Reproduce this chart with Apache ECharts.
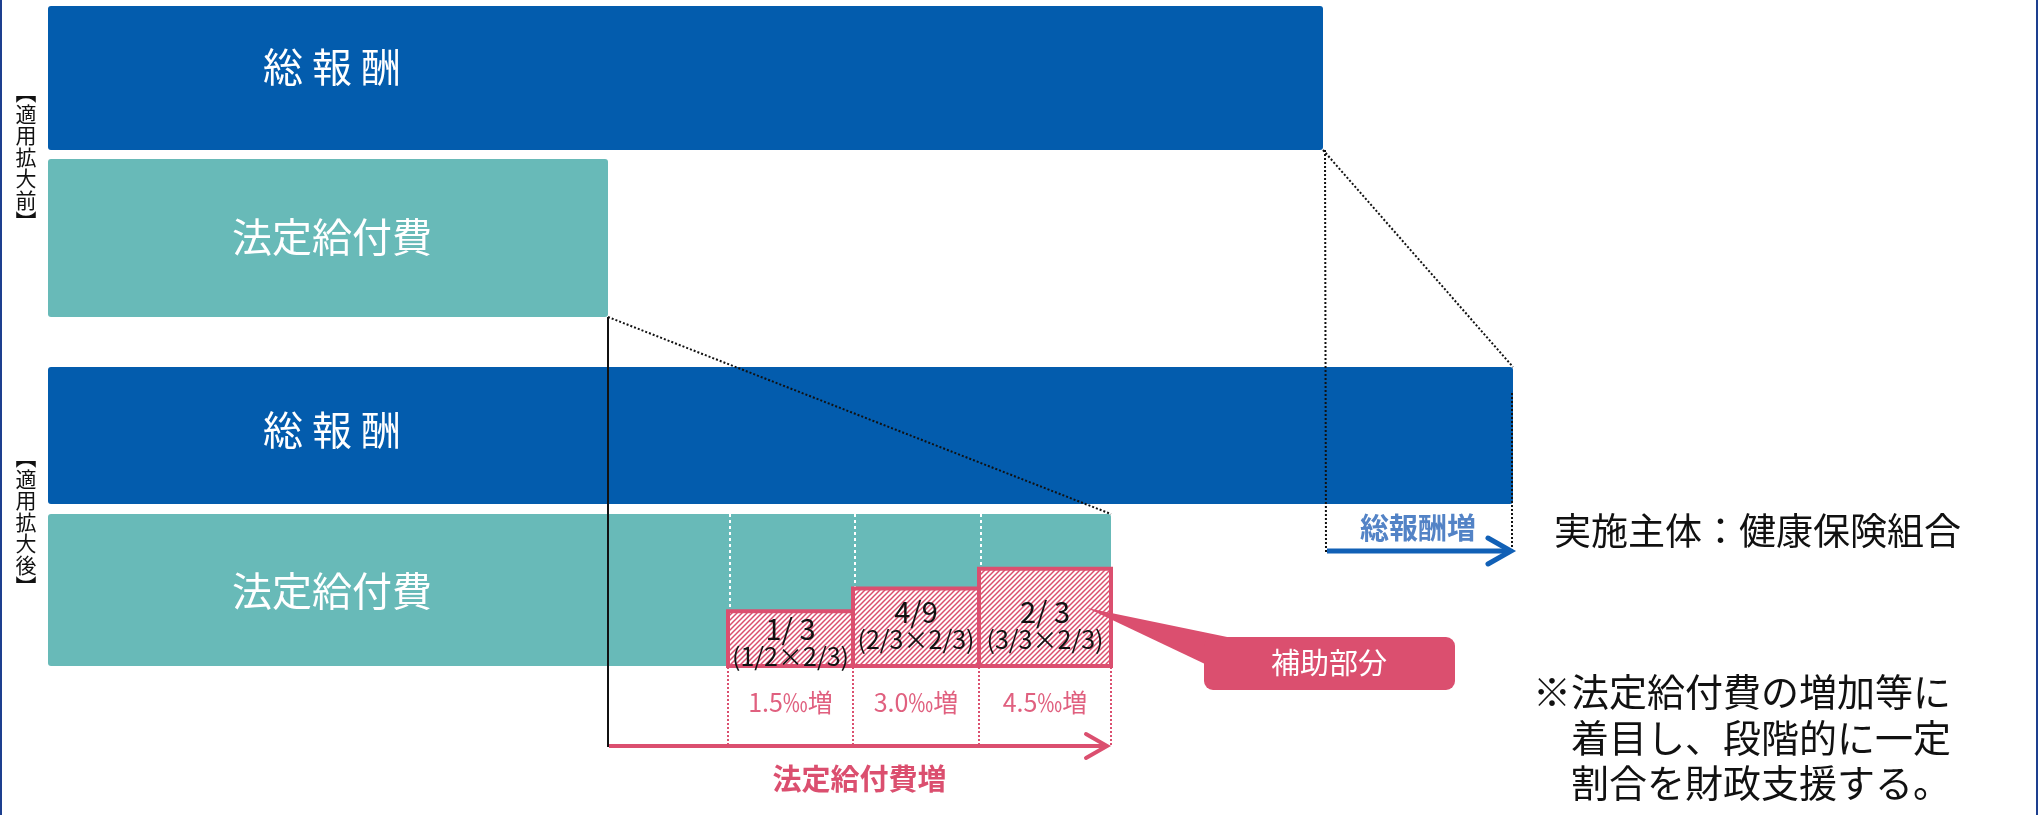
<!DOCTYPE html>
<html lang="ja">
<head>
<meta charset="utf-8">
<title>適用拡大前後の総報酬と法定給付費</title>
<script src="https://cdn.jsdelivr.net/npm/echarts@6/dist/echarts.min.js"></script>
<style>
html, body { margin: 0; padding: 0; background: #fff; }
#main { width: 2039px; height: 815px; }
</style>
</head>
<body>
<div id="main"></div>
<script>
// ---- データ ----
const panelLabels = ['︻適用拡大前︼', '︻適用拡大後︼'];
const barNames = ['総 報 酬', '法定給付費'];
const totalPay = [1275, 1465];          // 総報酬（前・後）
const benefitCost = [560, 1063];        // 法定給付費（前・後）
const stageEdges = [680, 805, 931, 1063];
const stageRatios = ['1/ 3', '4/9', '2/ 3'];
const stageFormulas = ['(1/2×2/3)', '(2/3×2/3)', '(3/3×2/3)'];
const stageRates = ['1.5‰増', '3.0‰増', '4.5‰増'];
const stageShare = [0.36, 0.51, 0.64];  // 補助部分の高さ（棒に対する割合）
const agentText = '実施主体：健康保険組合';
const noteLines = ['※法定給付費の増加等に', '　着目し、段階的に一定', '　割合を財政支援する。'];

// ---- 見た目 ----
const BLUE = '#035cad';
const TEAL = '#68bab8';
const PINK = '#db4f6f';
const FONT = '"Noto Sans CJK JP", "Noto Sans", sans-serif';
const X0 = 48;  // 棒の起点
const ROWS = [[6, 150], [159, 317], [367, 504], [514, 666]];

// 斜線の塗り
function makeHatch() {
    const c = document.createElement('canvas');
    c.width = 5; c.height = 5;
    const g = c.getContext('2d');
    g.fillStyle = '#fff';
    g.fillRect(0, 0, 5, 5);
    g.strokeStyle = PINK;
    g.lineWidth = 1.5;
    g.beginPath();
    g.moveTo(0, 5); g.lineTo(5, 0);
    g.moveTo(-1, 1); g.lineTo(1, -1);
    g.moveTo(4, 6); g.lineTo(6, 4);
    g.stroke();
    return c;
}
const hatch = makeHatch();

function renderItem(params, api) {
    const P = (x, y) => api.coord([x, y]);
    const kids = [];
    const rect = (x1, y1, x2, y2, style, r) => {
        const a = P(x1, y1), b = P(x2, y2);
        kids.push({ type: 'rect', shape: { x: a[0], y: a[1], width: b[0] - a[0], height: b[1] - a[1], r: r || 0 }, style: style });
    };
    const line = (x1, y1, x2, y2, style) => {
        const a = P(x1, y1), b = P(x2, y2);
        kids.push({ type: 'line', shape: { x1: a[0], y1: a[1], x2: b[0], y2: b[1] }, style: style });
    };
    const text = (s, x, y, size, fill, opt) => {
        const a = P(x, y);
        kids.push({
            type: 'text',
            style: Object.assign({ text: s, x: a[0], y: a[1], fill: fill, fontSize: size, fontFamily: FONT,
                align: 'center', verticalAlign: 'middle' }, opt || {})
        });
    };
    const poly = (type, pts, style) => {
        kids.push({ type: type, shape: { points: pts.map(p => P(p[0], p[1])) }, style: style });
    };
    const dotted = { stroke: '#111', lineWidth: 2, lineDash: [2, 2] };

    // 枠
    line(1, 0, 1, 815, { stroke: '#1d3f8f', lineWidth: 2 });
    line(2037, 0, 2037, 815, { stroke: '#1d3f8f', lineWidth: 2 });

    // 棒
    const lens = [totalPay[0], benefitCost[0], totalPay[1], benefitCost[1]];
    lens.forEach((v, i) => {
        rect(X0, ROWS[i][0], X0 + v, ROWS[i][1], { fill: i % 2 ? TEAL : BLUE }, 3);
    });
    text(barNames[0], 332, 67, 40, '#fff');
    text(barNames[1], 332, 237, 40, '#fff');
    text(barNames[0], 332, 430, 40, '#fff');
    text(barNames[1], 332, 591, 40, '#fff');

    // 左の見出し（縦書き）
    [157, 522].forEach((cy, i) => {
        text(panelLabels[i].split('').join('\n'), 26, cy, 21, '#111', { lineHeight: 21.5 });
    });

    // 段階ごとの補助部分
    const base = ROWS[3][1], barH = ROWS[3][1] - ROWS[3][0];
    for (let i = 0; i < 3; i++) {
        const x1 = X0 + stageEdges[i], x2 = X0 + stageEdges[i + 1];
        const top = base - stageShare[i] * barH;
        line(x1 + 2, ROWS[3][0], x1 + 2, top, { stroke: '#fff', lineWidth: 2, lineDash: [3, 3] });
        rect(x1, top, x2, base, { fill: { image: hatch, repeat: 'repeat' }, stroke: PINK, lineWidth: 4 });
        const cx = (x1 + x2) / 2;
        const ry = Math.max(top + 18, 612);
        text(stageRatios[i], cx, ry, 29, '#111');
        text(stageFormulas[i], cx, ry + 27, 25, '#111');
        text(stageRates[i], cx, 702, 25, '#e0607f');
    }
    stageEdges.forEach(e => {
        line(X0 + e, base + 1, X0 + e, 746, { stroke: PINK, lineWidth: 2, lineDash: [2, 2] });
    });

    // 法定給付費増
    const bx0 = X0 + benefitCost[0], bx1 = X0 + benefitCost[1];
    line(bx0, ROWS[1][1], bx0, 747, { stroke: '#111', lineWidth: 2 });
    line(bx0, ROWS[1][1], bx1, ROWS[3][0], dotted);
    line(bx0 + 1, 746, bx1 - 5, 746, { stroke: PINK, lineWidth: 4 });
    poly('polyline', [[bx1 - 25, 734], [bx1 - 4, 746], [bx1 - 25, 758]], { stroke: PINK, lineWidth: 4, fill: null, lineCap: 'round' });
    text('法定給付費増', (bx0 + bx1) / 2, 779, 29, PINK, { fontWeight: 'bold' });

    // 総報酬増
    const tx0 = X0 + totalPay[0], tx1 = X0 + totalPay[1];
    line(tx0, ROWS[0][1], tx1, ROWS[2][0], dotted);
    line(tx0 + 2, ROWS[0][1], tx0 + 3, 553, dotted);
    line(tx1 - 1, 393, tx1 - 1, 553, dotted);
    line(tx0 + 4, 551, tx1 - 3, 551, { stroke: '#1160b6', lineWidth: 5 });
    poly('polyline', [[tx1 - 25, 538], [tx1 - 2, 551], [tx1 - 25, 564]], { stroke: '#1160b6', lineWidth: 5, fill: null, lineCap: 'round' });
    text('総報酬増', (tx0 + tx1) / 2, 528, 29, '#5383c6', { fontWeight: 'bold' });

    // 実施主体
    text(agentText, 1554, 531, 37, '#111', { align: 'left' });

    // 補助部分の吹き出し
    poly('polygon', [[1087, 608], [1232, 638], [1205, 664]], { fill: PINK });
    rect(1204, 637, 1455, 690, { fill: PINK }, 9);
    text('補助部分', 1329, 663, 29, '#fff');

    // 注記
    noteLines.forEach((s, i) => {
        text(s, 1533, 692 + i * 45.5, 38, '#111', { align: 'left' });
    });

    return { type: 'group', children: kids };
}

const chart = echarts.init(document.getElementById('main'), null, { renderer: 'canvas' });
chart.setOption({
    animation: false,
    backgroundColor: '#fff',
    grid: { left: 0, right: 0, top: 0, bottom: 0 },
    xAxis: { type: 'value', min: 0, max: 2039, show: false },
    yAxis: { type: 'value', min: 0, max: 815, inverse: true, show: false },
    series: [{
        type: 'custom',
        renderItem: renderItem,
        clip: false,
        silent: true,
        data: [[0, 0]]
    }]
});
</script>
</body>
</html>
